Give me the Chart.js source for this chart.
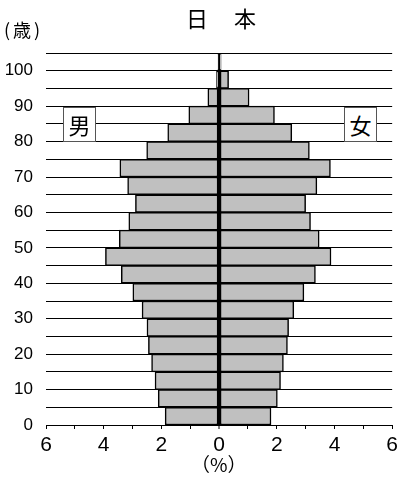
<!DOCTYPE html>
<html>
<head>
<meta charset="utf-8">
<script src="https://cdn.jsdelivr.net/npm/chart.js@4"></script>
<style>
  html, body { margin: 0; padding: 0; background: #fff; }
  #wrap { position: relative; width: 402px; height: 483px; }
  .txt { position: absolute; font-family: "Noto Sans CJK JP", sans-serif; color: #000; line-height: 1; white-space: nowrap; }
  .sex-box {
    position: absolute; width: 31px; height: 33px; border: 1px solid #555; background: #fff;
    font-family: "Noto Sans CJK JP", sans-serif; font-size: 22px; line-height: 33px; text-align: center;
  }
</style>
</head>
<body>
<div id="wrap">
  <canvas id="pyramid"></canvas>
  <div class="txt" id="title" style="left:186px; top:6px; font-size:22px; letter-spacing:2px;">日　本</div>
  <div class="txt" style="left:4px; top:20px; font-size:18px; letter-spacing:3px;">(歳)</div>
  <div class="sex-box" style="left:63px; top:107px;">男</div>
  <div class="sex-box" style="left:344px; top:107px;">女</div>
  <div class="txt" style="left:191px; top:454px; font-size:19px;">（%）</div>
</div>
<script>
// ── 데이터 (5세 단위, 0-4세 → 100세 이상) ─────────────────
const ageGroups = [
  "0-4", "5-9", "10-14", "15-19", "20-24", "25-29", "30-34", "35-39", "40-44", "45-49",
  "50-54", "55-59", "60-64", "65-69", "70-74", "75-79", "80-84", "85-89", "90-94", "95-99", "100+",
];
const maleShare = [
  1.87, 2.11, 2.22, 2.34, 2.45, 2.50, 2.67, 2.99, 3.39, 3.94,
  3.46, 3.13, 2.90, 3.17, 3.44, 2.51, 1.78, 1.05, 0.39, 0.09, 0.04,
];
const femaleShare = [
  1.80, 2.02, 2.13, 2.23, 2.37, 2.41, 2.59, 2.94, 3.34, 3.88,
  3.47, 3.17, 3.00, 3.39, 3.86, 3.13, 2.52, 1.92, 1.04, 0.33, 0.07,
];
const ageTicks = [0, 10, 20, 30, 40, 50, 60, 70, 80, 90, 100];
const pctTicks = [0, 2, 4, 6];

const BAR_FILL = "#c0c0c0";

new Chart(document.getElementById("pyramid"), {
  type: "bar",
  data: {
    labels: ageGroups,
    datasets: [
      { label: "男", data: maleShare.map(v => -v) },
      { label: "女", data: femaleShare },
    ].map(ds => ({
      ...ds,
      backgroundColor: BAR_FILL,
      borderColor: "#000",
      borderWidth: 1.5,
      borderSkipped: false,
      barPercentage: 1,
      categoryPercentage: 1,
      grouped: false,
    })),
  },
  options: {
    indexAxis: "y",
    responsive: true,
    maintainAspectRatio: false,
    animation: false,
    layout: { padding: { top: 53, right: 7, left: 0, bottom: 0 } },
    plugins: { legend: { display: false }, tooltip: { enabled: false } },
    scales: {
      x: {
        type: "linear",
        min: -6,
        max: 6,
        z: 1,
        afterFit: s => { s.height = 58; },
        border: { display: true, color: "#000", width: 1 },
        grid: {
          color: ctx => (ctx.tick && ctx.tick.value === 0 ? "#000" : "rgba(0,0,0,0)"),
          lineWidth: ctx => (ctx.tick && ctx.tick.value === 0 ? 2 : 1),
          tickColor: "#000",
          tickWidth: 1,
          tickLength: 4,
        },
        ticks: {
          stepSize: 1,
          autoSkip: false,
          maxRotation: 0,
          padding: 4,
          color: "#000",
          font: { family: "'Liberation Sans Narrow', 'Liberation Sans', sans-serif", size: 21 },
          callback: v => (pctTicks.includes(Math.abs(v)) ? String(Math.abs(v)) : ""),
        },
      },
      y: {
        type: "category",
        display: false,
        reverse: true,
        offset: true,
      },
      // 나이 눈금 (막대 축과 같은 영역, 5세 간격 격자)
      yAge: {
        type: "linear",
        position: "left",
        min: 0,
        max: 105,
        offset: false,
        afterFit: s => { s.width = 46; },
        border: { display: false },
        grid: { color: "#000", lineWidth: 1, drawTicks: false, offset: false },
        ticks: {
          stepSize: 5,
          autoSkip: false,
          padding: 13,
          color: "#000",
          font: { family: "'Liberation Sans', sans-serif", size: 17 },
          callback: v => (ageTicks.includes(v) ? String(v) : ""),
        },
      },
    },
  },
});
</script>
</body>
</html>
